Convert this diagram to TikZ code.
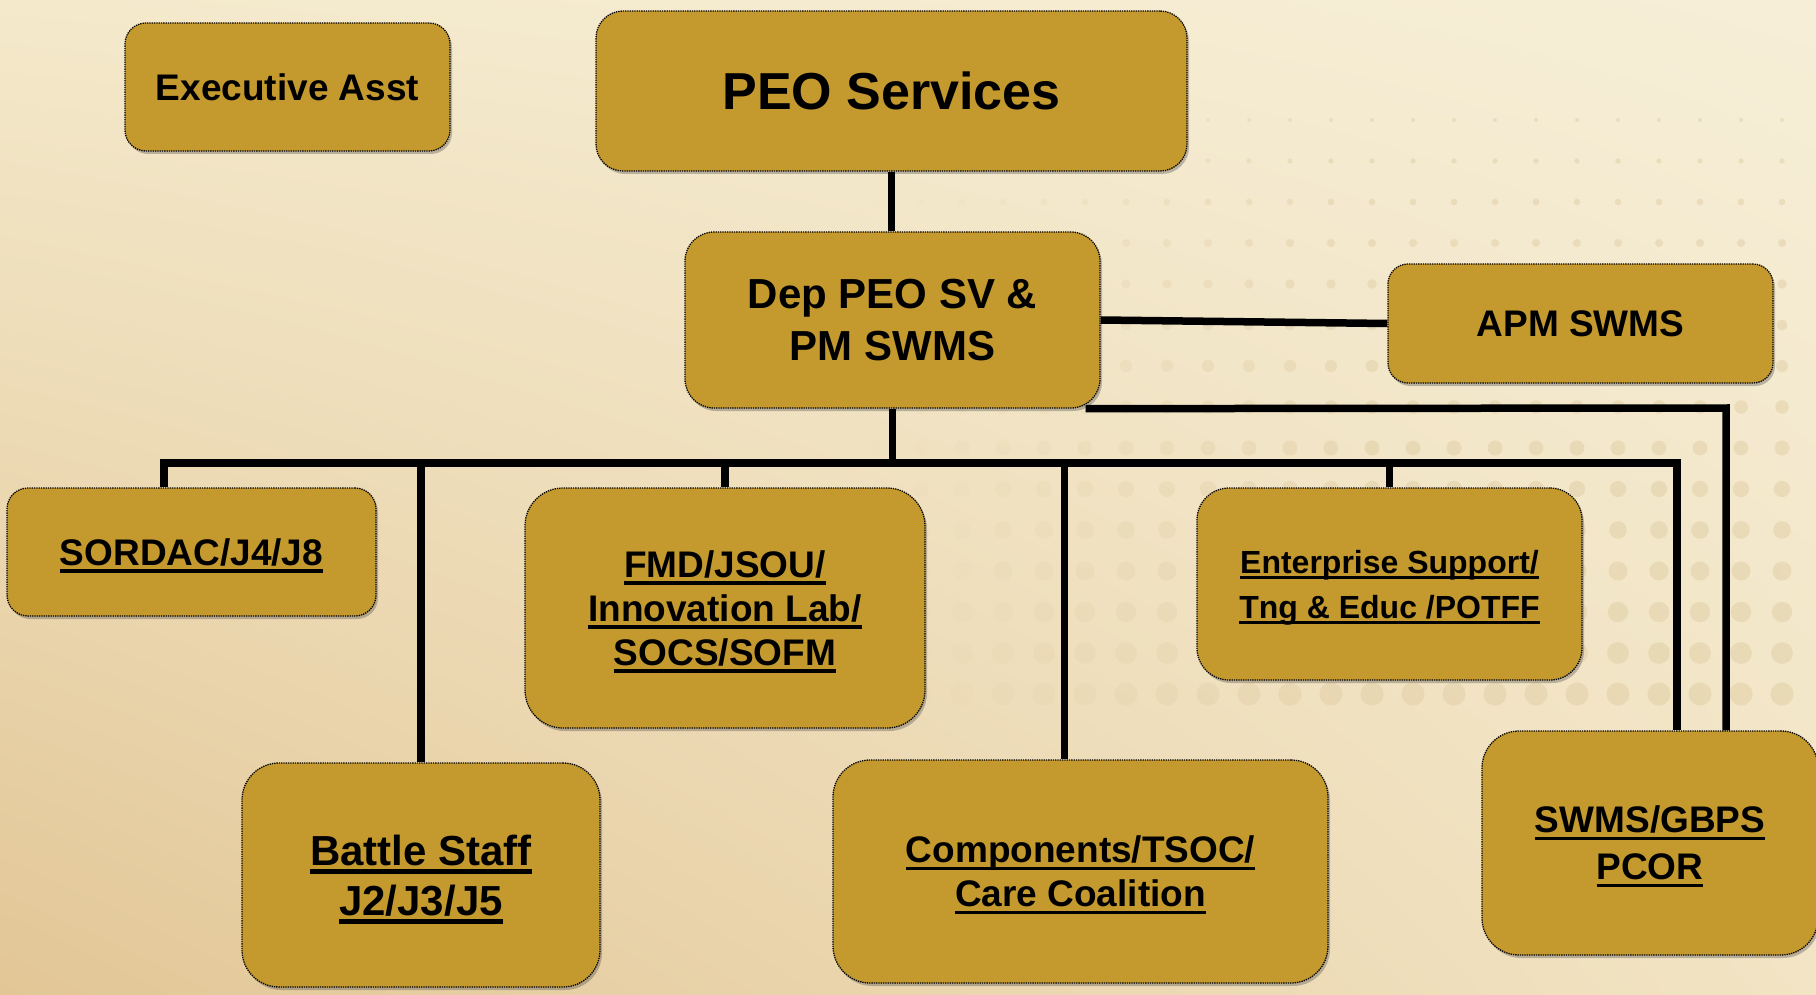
\documentclass[tikz,border=0pt]{standalone}
\usepackage{fontspec}
\setmainfont{Liberation Sans}
\usetikzlibrary{shadows,shadings}

\definecolor{boxgold}{RGB}{196,154,46}
\definecolor{bgul}{RGB}{244,233,203}
\definecolor{bgur}{RGB}{246,238,215}
\definecolor{bgll}{RGB}{226,198,150}
\definecolor{bglr}{RGB}{242,228,196}
\definecolor{dotbeige}{RGB}{222,203,160}

% underlined label line
\newcommand{\orgul}[1]{\setbox0\hbox{#1}\rlap{\smash{\rule[-0.2em]{\wd0}{0.1em}}}\raisebox{0pt}[\ht0][0pt]{\copy0}}

\begin{document}
\begin{tikzpicture}[x=1pt,y=-1pt,
    orgbox/.style={draw=black, densely dotted, line width=1.3pt, fill=boxgold,
      inner sep=0pt, align=center, text=black,
      drop shadow={shadow xshift=2pt, shadow yshift=-3pt, opacity=0.35, fill=black!70}},
    orgline/.style={draw=black, line width=7.5pt}]
    \useasboundingbox (0,0) rectangle (1816,995);
    \shade[upper left=bgul, upper right=bgur, lower left=bgll, lower right=bglr] (0,0) rectangle (1816,995);
    % halftone dots at the right
    \foreach \y [evaluate=\y as \r using {2+(\y-120)/60}] in {120,161,...,720} {
        \foreach \x [evaluate=\x as \o using {min(1,(\x-860)/500)*0.45}] in {880,921,...,1816} {
            \fill[dotbeige, opacity=\o] (\x,\y) circle[radius=\r pt];
        }
    }

    \node[orgbox, minimum width=325pt, minimum height=128pt, rounded corners=21pt,
        font=\fontsize{37}{44}\selectfont\bfseries] (exec) at (287.5,87) {Executive Asst};
    \node[orgbox, minimum width=591pt, minimum height=160pt, rounded corners=27pt,
        font=\fontsize{52}{60}\selectfont\bfseries] (peo) at (891.5,91) {PEO Services};
    \node[orgbox, minimum width=415pt, minimum height=176pt, rounded corners=29pt,
        font=\fontsize{42}{52}\selectfont\bfseries] (dep) at (892.5,320) {Dep PEO SV \&\\PM SWMS};
    \node[orgbox, minimum width=385pt, minimum height=119pt, rounded corners=20pt,
        font=\fontsize{37}{44}\selectfont\bfseries] (apm) at (1580.5,323.5) {APM SWMS};
    \node[orgbox, minimum width=369pt, minimum height=128pt, rounded corners=21pt,
        font=\fontsize{37}{44}\selectfont\bfseries] (sordac) at (191.5,552) {\orgul{SORDAC/J4/J8}};
    \node[orgbox, minimum width=400pt, minimum height=240pt, rounded corners=38pt,
        font=\fontsize{37}{44}\selectfont\bfseries] (fmd) at (725,608)
        {\orgul{FMD/JSOU/}\\\orgul{Innovation Lab/}\\\orgul{SOCS/SOFM}};
    \node[orgbox, minimum width=385pt, minimum height=192pt, rounded corners=32pt,
        font=\fontsize{32}{45}\selectfont\bfseries] (ent) at (1389.5,584)
        {\orgul{Enterprise Support/}\\\orgul{Tng \& Educ /POTFF}};
    \node[orgbox, minimum width=358pt, minimum height=224pt, rounded corners=37pt,
        font=\fontsize{42}{50}\selectfont\bfseries] (battle) at (421,875)
        {\orgul{Battle Staff}\\\orgul{J2/J3/J5}};
    \node[orgbox, minimum width=495pt, minimum height=223pt, rounded corners=37pt,
        font=\fontsize{37}{44}\selectfont\bfseries] (comp) at (1080.5,871.5)
        {\orgul{Components/TSOC/}\\\orgul{Care Coalition}};
    \node[orgbox, minimum width=336pt, minimum height=224pt, rounded corners=37pt,
        font=\fontsize{37}{47}\selectfont\bfseries] (swms) at (1650,843)
        {\orgul{SWMS/GBPS}\\\orgul{PCOR}};

    \coordinate (busL) at (164,463);
    \coordinate (busR) at (1677,463);
    \coordinate (linkR) at (1726,408);

    \draw[orgline] (peo.south) -- (peo.south |- dep.north);
    \draw[orgline] (dep.east) -- (apm.west);
    \draw[orgline] (dep.south) -- (dep.south |- busL);
    \draw[orgline] (busL |- sordac.north) -- (busL) -- (busR) -- (busR |- swms.north);
    \foreach \n in {battle,fmd,ent}
        \draw[orgline] (\n.north |- busL) -- (\n.north);
    \draw[orgline] ([xshift=-16pt]comp.north |- busL) -- ([xshift=-16pt]comp.north);
    \draw[orgline] ([xshift=-15pt]dep.south east) -- (linkR) -- (linkR |- swms.north);
\end{tikzpicture}
\end{document}
